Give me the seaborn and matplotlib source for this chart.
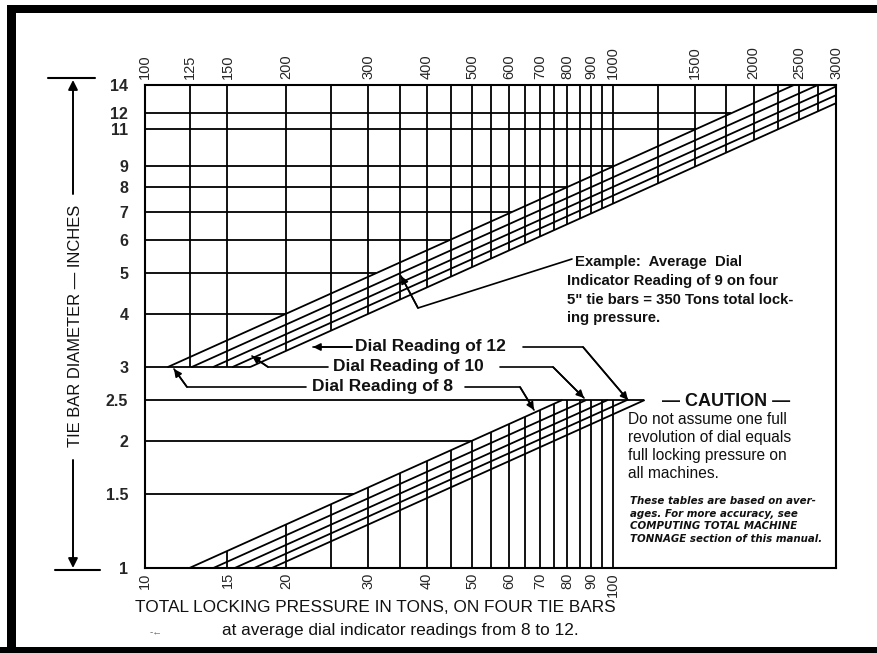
import matplotlib.pyplot as plt
import pandas as pd
import seaborn as sns
from matplotlib.lines import Line2D
from matplotlib.patches import Rectangle

# the worked example printed on the chart: reading 9 on four 5" bars = 350 tons
EXAMPLE_TONS = 350
EXAMPLE_READING = 9
EXAMPLE_DIAMETER = 5

dial_readings = [8, 9, 10, 11, 12]
upper_diameters = [3, 14]      # upper band, read on the top scale (100-3000 tons)
lower_diameters = [1, 2.5]     # lower band, read on the bottom scale (10-100 tons)

diam_ticks = [1, 1.5, 2, 2.5, 3, 4, 5, 6, 7, 8, 9, 11, 12, 14]
diam_labels = ['1', '1.5', '2', '2.5', '3', '4', '5', '6', '7', '8', '9', '11', '12', '14']
upper_grid_diams = [4, 5, 6, 7, 8, 9, 11, 12]
lower_grid_diams = [1.5, 2]

bottom_ticks = [10, 15, 20, 30, 40, 50, 60, 70, 80, 90, 100]
top_ticks = [100, 125, 150, 200, 300, 400, 500, 600, 700, 800, 900, 1000,
             1500, 2000, 2500, 3000]
lower_grid_tons = [15, 20, 25, 30, 35, 40, 45, 50, 55, 60, 65, 70, 75, 80,
                   85, 90, 95, 100]
upper_grid_tons = [125, 150, 200, 250, 300, 350, 400, 450, 500, 550, 600, 650,
                   700, 750, 800, 850, 900, 950, 1000, 1250, 1500, 1750, 2000,
                   2250, 2500, 2750]

W, H = 877, 653
K = EXAMPLE_TONS / (EXAMPLE_READING * EXAMPLE_DIAMETER ** 2)


def tons(reading, diam):
    return K * reading * diam ** 2


def diam_at(reading, t):
    return (t / (K * reading)) ** 0.5


def fp(x, y):
    # reference pixel -> figure fraction
    return x / W, 1 - y / H


def main():
    sns.set_theme(style='white')
    plt.rcParams['font.family'] = ['Liberation Sans', 'DejaVu Sans']

    rows = []
    for r in dial_readings:
        for d in upper_diameters:
            rows.append({'line': f'up{r}', 'diameter': d, 'x': tons(r, d) / 10})
        for d in lower_diameters:
            rows.append({'line': f'lo{r}', 'diameter': d, 'x': tons(r, d)})
    df = pd.DataFrame(rows)

    fig = plt.figure(figsize=(W / 100, H / 100), dpi=100)
    ax = fig.add_axes([145 / W, 85 / H, (836 - 145) / W, (568 - 85) / H])
    ax.set_xscale('log')
    ax.set_yscale('log')

    sns.lineplot(data=df, x='x', y='diameter', units='line', estimator=None,
                 color='black', lw=1.3, sort=False, legend=False, ax=ax)

    kw = dict(color='black', lw=1.3)
    # upper grid: verticals from top to the reading-12 line, horizontals to reading-8
    for t in upper_grid_tons:
        ax.vlines(t / 10, max(3, diam_at(12, t)), 14, **kw)
    for d in upper_grid_diams:
        ax.hlines(d, 10, tons(8, d) / 10, **kw)
    ax.hlines(3, 10, tons(12, 3) / 10, **kw)
    # lower grid: verticals from bottom to the reading-8 line
    for t in lower_grid_tons:
        ax.vlines(t, 1, min(2.5, diam_at(8, t)), **kw)
    for d in lower_grid_diams:
        ax.hlines(d, 10, tons(8, d), **kw)
    ax.hlines(2.5, 10, tons(12, 2.5), **kw)

    ax.set_xlim(10, 300)
    ax.set_ylim(1, 14)
    ax.minorticks_off()
    ax.set_xticks(bottom_ticks)
    ax.set_xticklabels([str(v) for v in bottom_ticks], rotation=90, fontsize=10.5)
    ax.set_yticks(diam_ticks)
    ax.set_yticklabels(diam_labels, fontsize=11.5, fontweight='bold')
    ax.tick_params(axis='x', length=0, pad=3)
    ax.tick_params(axis='y', length=0, pad=12)
    ax.set_xlabel('')
    ax.set_ylabel('')
    for s in ax.spines.values():
        s.set_color('black')
        s.set_linewidth(1.5)

    top = ax.twiny()
    top.set_xscale('log')
    top.set_xlim(100, 3000)
    top.minorticks_off()
    top.set_xticks(top_ticks)
    top.set_xticklabels([str(v) for v in top_ticks], rotation=90, fontsize=10.5)
    top.tick_params(axis='x', length=0, pad=4)
    for s in top.spines.values():
        s.set_visible(False)

    def leader(points, arrow=True):
        pts = [fp(*p) for p in points]
        xs, ys = zip(*pts)
        fig.add_artist(Line2D(xs, ys, color='black', lw=1.2))
        if arrow:
            ax.annotate('', xy=pts[-1], xytext=pts[-2], xycoords='figure fraction',
                        textcoords='figure fraction',
                        arrowprops=dict(arrowstyle='-|>', color='black', lw=1.2,
                                        mutation_scale=11, shrinkA=0, shrinkB=0))

    lab = dict(fontsize=12.5, fontweight='bold', color='#111111', va='center')
    # dial reading labels
    fig.text(*fp(355, 347), 'Dial Reading of 12', **lab)
    fig.text(*fp(333, 367), 'Dial Reading of 10', **lab)
    fig.text(*fp(312, 387), 'Dial Reading of 8', **lab)
    leader([(352, 347), (313, 347)])
    leader([(328, 367), (268, 367), (252, 356)])
    leader([(306, 387), (187, 387), (174, 369)])
    leader([(523, 347), (583, 347), (628, 400)])
    leader([(500, 367), (553, 367), (584, 398)])
    leader([(465, 387), (520, 387), (534, 410)])

    # worked example
    txt = dict(fontsize=10.7, fontweight='bold', color='#111111', va='center')
    fig.text(*fp(575, 262), 'Example:  Average  Dial', **txt)
    fig.text(*fp(567, 281), 'Indicator Reading of 9 on four', **txt)
    fig.text(*fp(567, 300), '5" tie bars = 350 Tons total lock-', **txt)
    fig.text(*fp(567, 318), 'ing pressure.', **txt)
    leader([(572, 259), (418, 308), (401, 276)])

    # caution box
    fig.text(*fp(726, 401), '— CAUTION —', fontsize=13, fontweight='bold',
             ha='center', va='center', color='#111111')
    fig.text(*fp(628, 412), 'Do not assume one full\nrevolution of dial equals\n'
             'full locking pressure on\nall machines.',
             fontsize=11.2, color='#111111', va='top', linespacing=1.24)
    fig.text(*fp(630, 496), 'These tables are based on aver-\nages. For more accuracy, see\n'
             'COMPUTING TOTAL MACHINE\nTONNAGE section of this manual.',
             fontsize=7.4, fontweight='bold', fontstyle='italic', color='#111111',
             va='top', linespacing=1.33, family=['DejaVu Sans'])

    # axis titles
    fig.text(*fp(375, 608), 'TOTAL LOCKING PRESSURE IN TONS, ON FOUR TIE BARS',
             fontsize=12.4, ha='center', va='center', color='#111111')
    fig.text(*fp(400, 630), 'at average dial indicator readings from 8 to 12.',
             fontsize=12.4, ha='center', va='center', color='#111111')
    fig.text(*fp(156, 632), '-←', fontsize=7, ha='center', va='center', color='#666666')

    fig.text(*fp(75, 326), 'TIE BAR DIAMETER — INCHES', rotation=90, fontsize=11.9,
             ha='center', va='center', color='#111111')
    fig.add_artist(Line2D(*zip(fp(48, 78), fp(95, 78)), color='black', lw=1.5))
    fig.add_artist(Line2D(*zip(fp(55, 570), fp(100, 570)), color='black', lw=1.5))
    for a, b in [((73, 194), (73, 80)), ((73, 460), (73, 568))]:
        ax.annotate('', xy=fp(*b), xytext=fp(*a), xycoords='figure fraction',
                    textcoords='figure fraction',
                    arrowprops=dict(arrowstyle='-|>', color='black', lw=1.4,
                                    mutation_scale=14, shrinkA=0, shrinkB=0))

    # scanned page border
    for x0, y0, x1, y1 in [(7, 5, 16, 653), (7, 5, 877, 13), (0, 647, 877, 653)]:
        fig.add_artist(Rectangle(fp(x0, y1), (x1 - x0) / W, (y1 - y0) / H,
                                 transform=fig.transFigure, color='black', lw=0))

    fig.savefig('out.png', dpi=100)


if __name__ == '__main__':
    main()
